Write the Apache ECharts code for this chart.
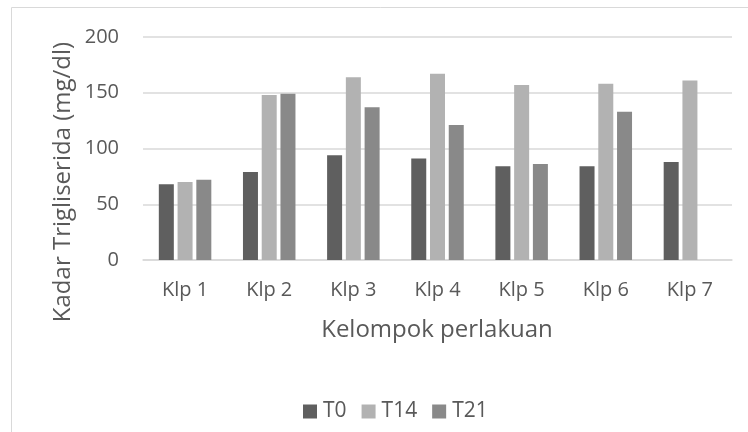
<!DOCTYPE html>
<html>
<head>
<meta charset="utf-8">
<script src="https://cdn.jsdelivr.net/npm/echarts@6/dist/echarts.min.js"></script>
<style>html,body{margin:0;padding:0;background:#fff;}#c{width:748px;height:432px;}</style>
</head>
<body>
<div id="c"></div>
<script>
const categories = ['Klp 1', 'Klp 2', 'Klp 3', 'Klp 4', 'Klp 5', 'Klp 6', 'Klp 7'];
const seriesNames = ['T0', 'T14', 'T21'];
const t0 = [68, 79, 94, 91, 84, 84, 88];
const t14 = [70, 148, 164, 167, 157, 158, 161];
const t21 = [72, 149, 137, 121, 86, 133, null];
const yTicks = [0, 50, 100, 150, 200];
const colors = ['#5f5f5f', '#b2b2b2', '#898989'];
const FONT = 'Open Sans';

const chart = echarts.init(document.getElementById('c'));
const values = [t0, t14, t21];
chart.setOption({
  animation: false,
  textStyle: { fontFamily: FONT },
  grid: { left: 143, right: 16, top: 37, bottom: 172, containLabel: false },
  legend: {
    data: seriesNames,
    left: 298, top: 396,
    itemWidth: 14, itemHeight: 14, itemGap: 15,
    icon: 'rect',
    textStyle: { fontFamily: FONT, fontSize: 21, color: '#595959', padding: [0,0,0,1] }
  },
  xAxis: {
    type: 'category',
    data: categories,
    axisLine: { lineStyle: { color: '#d9d9d9', width: 1.5 } },
    axisTick: { show: false },
    axisLabel: { color: '#595959', fontSize: 20, margin: 20, fontFamily: FONT }
  },
  yAxis: {
    type: 'value',
    min: yTicks[0], max: yTicks[yTicks.length - 1], interval: 50,
    axisLine: { show: false },
    axisTick: { show: false },
    splitLine: { lineStyle: { color: '#d9d9d9', width: 1.5 } },
    axisLabel: { color: '#595959', fontSize: 20, margin: 24, fontFamily: FONT }
  },
  series: seriesNames.map((n, i) => ({
    name: n,
    type: 'bar',
    data: values[i],
    barWidth: 15,
    barGap: '25%',
    itemStyle: { color: colors[i] }
  })),
  graphic: [
    { type: 'rect', shape: { x: 11.5, y: 7.5, width: 800, height: 500 }, style: { fill: 'none', stroke: '#d9d9d9', lineWidth: 1 }, silent: true, z: -1 },
    { type: 'text', x: 63, y: 182, rotation: Math.PI / 2, style: { text: 'Kadar Trigliserida (mg/dl)', fontFamily: FONT, fontSize: 24, fill: '#595959', align: 'center', verticalAlign: 'middle' } },
    { type: 'text', x: 437, y: 330, style: { text: 'Kelompok perlakuan', fontFamily: FONT, fontSize: 24, fill: '#595959', align: 'center', verticalAlign: 'middle' } }
  ]
});
</script>
</body>
</html>
